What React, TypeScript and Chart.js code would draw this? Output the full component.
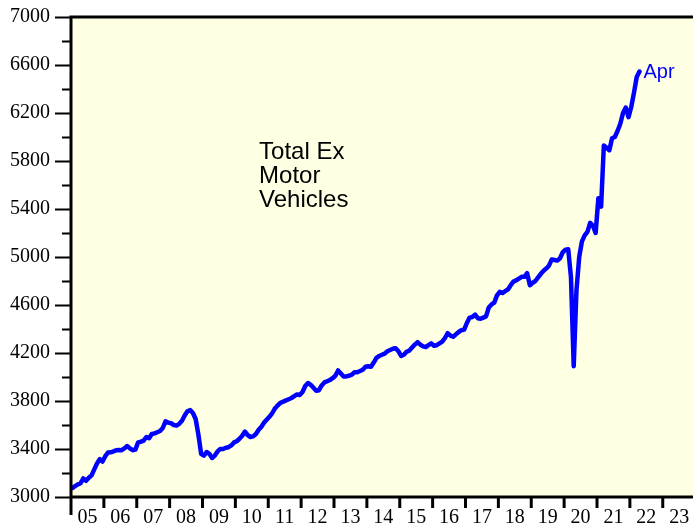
import React, { useEffect, useRef } from "react";
import { Chart, registerables } from "chart.js";

Chart.register(...registerables);

// Monthly values, Jan..Dec (2022: Jan..Apr)
const v2005 = [3075, 3090, 3105, 3115, 3155, 3135, 3160, 3180, 3230, 3280, 3315, 3295];
const v2006 = [3340, 3370, 3372, 3380, 3390, 3392, 3390, 3405, 3425, 3405, 3390, 3395];
const v2007 = [3455, 3460, 3470, 3500, 3490, 3525, 3530, 3540, 3550, 3575, 3630, 3620];
const v2008 = [3615, 3600, 3595, 3610, 3635, 3680, 3715, 3725, 3700, 3650, 3520, 3360];
const v2009 = [3345, 3375, 3360, 3325, 3345, 3380, 3400, 3400, 3410, 3415, 3430, 3455];
const v2010 = [3465, 3485, 3510, 3545, 3515, 3500, 3505, 3525, 3560, 3585, 3620, 3645];
const v2011 = [3670, 3700, 3740, 3765, 3785, 3795, 3805, 3815, 3825, 3840, 3855, 3850];
const v2012 = [3875, 3925, 3950, 3935, 3910, 3885, 3890, 3930, 3955, 3965, 3975, 3990];
const v2013 = [4010, 4055, 4030, 4005, 4005, 4010, 4020, 4040, 4040, 4050, 4060, 4085];
const v2014 = [4090, 4085, 4120, 4160, 4175, 4185, 4195, 4215, 4225, 4235, 4240, 4215];
const v2015 = [4175, 4185, 4210, 4220, 4245, 4270, 4290, 4270, 4255, 4250, 4265, 4280];
const v2016 = [4260, 4265, 4280, 4295, 4325, 4365, 4345, 4335, 4355, 4375, 4390, 4395];
const v2017 = [4450, 4495, 4500, 4520, 4490, 4485, 4495, 4505, 4580, 4605, 4620, 4680];
const v2018 = [4710, 4700, 4715, 4730, 4765, 4795, 4805, 4820, 4835, 4835, 4865, 4765];
const v2019 = [4785, 4800, 4830, 4860, 4885, 4905, 4930, 4980, 4975, 4970, 4990, 5040];
const v2020 = [5060, 5065, 4830, 4090, 4720, 5000, 5130, 5180, 5210, 5285, 5260, 5200];
const v2021 = [5490, 5420, 5930, 5910, 5890, 5990, 6000, 6050, 6110, 6200, 6245, 6165];
const v2022 = [6250, 6370, 6500, 6545];

const yearLabels = ["05", "06", "07", "08", "09", "10", "11", "12", "13", "14", "15", "16", "17", "18", "19", "20", "21", "22", "23"];
const startYear = 2005;
const yMin = 3000;
const yMax = 7000;
const yLabelStep = 400;
const endLabel = "Apr";
const titleLines = ["Total Ex", "Motor", "Vehicles"];

const allValues = [
  ...v2005, ...v2006, ...v2007, ...v2008, ...v2009, ...v2010, ...v2011, ...v2012, ...v2013,
  ...v2014, ...v2015, ...v2016, ...v2017, ...v2018, ...v2019, ...v2020, ...v2021, ...v2022,
];

const SERIF = "'Liberation Serif', 'Times New Roman', serif";
const SANS = "'Liberation Sans', Arial, sans-serif";

const isMajor = (v: number) => (v - yMin) % yLabelStep === 0;

const decorPlugin = {
  id: "decor",
  beforeDraw(chart: any) {
    const { ctx, chartArea: a, width, height } = chart;
    ctx.save();
    ctx.fillStyle = "#ffffff";
    ctx.fillRect(0, 0, width, height);
    ctx.fillStyle = "#ffffe4";
    ctx.fillRect(a.left, a.top, a.right - a.left, a.bottom - a.top);
    ctx.restore();
  },
  afterDraw(chart: any) {
    const { ctx, chartArea: a } = chart;
    const xs = chart.scales.x;
    const ys = chart.scales.y;
    ctx.save();
    ctx.strokeStyle = "#000";
    ctx.lineCap = "butt";
    // y ticks
    ys.ticks.forEach((t: any) => {
      const y = Math.round(ys.getPixelForValue(t.value)) + 0.5;
      const major = isMajor(t.value);
      ctx.lineWidth = 2;
      ctx.beginPath();
      ctx.moveTo(a.left - (major ? 16 : 9), y);
      ctx.lineTo(a.left, y);
      ctx.stroke();
    });
    // x ticks
    xs.ticks.forEach((t: any, i: number) => {
      const x = xs.getPixelForValue(t.value);
      ctx.lineWidth = 3;
      ctx.beginPath();
      ctx.moveTo(x, a.bottom);
      ctx.lineTo(x, a.bottom + (i === 0 ? 18 : 11));
      ctx.stroke();
    });
    // frame
    ctx.lineWidth = 3;
    ctx.beginPath();
    ctx.moveTo(a.left, a.bottom);
    ctx.lineTo(a.left, a.top);
    ctx.lineTo(a.right, a.top);
    ctx.stroke();
    ctx.beginPath();
    ctx.moveTo(a.left, a.bottom);
    ctx.lineTo(a.right, a.bottom);
    ctx.stroke();
    // end label
    const meta = chart.getDatasetMeta(0);
    const last = meta.data[meta.data.length - 1];
    ctx.fillStyle = "#0000ff";
    ctx.font = `20px ${SANS}`;
    ctx.textAlign = "left";
    ctx.textBaseline = "middle";
    ctx.fillText(endLabel, last.x + 4, last.y + 1);
    // title
    ctx.fillStyle = "#000";
    ctx.font = `24px ${SANS}`;
    ctx.textBaseline = "alphabetic";
    const tx = xs.getPixelForValue(2010.72);
    const ty = ys.getPixelForValue(5815);
    titleLines.forEach((s, i) => ctx.fillText(s, tx, ty + i * 24));
    ctx.restore();
  },
};

export default function App() {
  const ref = useRef<HTMLCanvasElement | null>(null);
  useEffect(() => {
    if (!ref.current) return;
    const data = allValues.map((v, i) => ({ x: startYear + (i + 0.5) / 12, y: v }));
    const chart = new Chart(ref.current, {
      type: "line",
      data: {
        datasets: [
          {
            data,
            borderColor: "#0000ff",
            borderWidth: 4.5,
            pointRadius: 0,
            tension: 0,
            borderJoinStyle: "round",
            borderCapStyle: "round",
          },
        ],
      },
      options: {
        responsive: false,
        animation: false,
        events: [],
        layout: { padding: { top: 17, right: 0, left: 0, bottom: 0 } },
        plugins: { legend: { display: false }, tooltip: { enabled: false } },
        scales: {
          x: {
            type: "linear",
            min: 2005,
            max: 2023.92,
            grid: { display: false, drawTicks: false },
            border: { display: false },
            ticks: {
              stepSize: 1,
              includeBounds: false,
              autoSkip: false,
              maxRotation: 0,
              padding: 9,
              labelOffset: 16.4,
              color: "#000",
              font: { family: SERIF, size: 20 },
              callback: (v: any) => yearLabels[Math.round(v) - startYear] ?? "",
            },
            afterFit: (s: any) => {
              s.height = 32;
              s.paddingLeft = 0;
              s.paddingRight = 0;
            },
          },
          y: {
            min: yMin,
            max: yMax,
            grid: { display: false, drawTicks: false },
            border: { display: false },
            ticks: {
              stepSize: 200,
              autoSkip: false,
              padding: 21,
              color: "#000",
              font: { family: SERIF, size: 20 },
              callback: (v: any) => (isMajor(v) ? String(v) : ""),
            },
            afterFit: (s: any) => {
              s.width = 71;
              s.paddingTop = 0;
              s.paddingBottom = 0;
            },
          },
        },
      },
      plugins: [decorPlugin],
    });
    return () => chart.destroy();
  }, []);
  return (
    <div style={{ position: "absolute", left: 0, top: 0, width: 693, height: 529 }}>
      <canvas ref={ref} width={693} height={529} style={{ display: "block" }} />
    </div>
  );
}
